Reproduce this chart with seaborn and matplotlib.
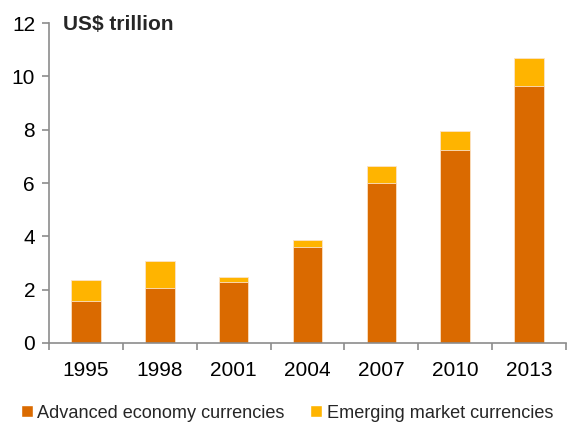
import matplotlib
matplotlib.use("Agg")
import matplotlib.pyplot as plt
import seaborn as sns
import pandas as pd
from matplotlib.patches import Patch

# ---- data (US$ trillion) ----
years = ["1995", "1998", "2001", "2004", "2007", "2010", "2013"]
advanced = [1.57, 2.06, 2.29, 3.60, 6.00, 7.24, 9.64]
emerging = [0.79, 1.01, 0.18, 0.26, 0.64, 0.71, 1.05]

ORANGE = "#DA6A00"
YELLOW = "#FFB400"

sns.set_theme(style="white")
plt.rcParams["font.family"] = ["Liberation Sans", "DejaVu Sans"]

df = pd.DataFrame({"year": years, "advanced": advanced, "emerging": emerging})
df["total"] = df["advanced"] + df["emerging"]

fig = plt.figure(figsize=(5.67, 4.23), dpi=100)
ax = fig.add_axes([49 / 567, 1 - 343 / 423, 517 / 567, 320 / 423])

sns.barplot(data=df, x="year", y="total", color=YELLOW, width=0.4,
            saturation=1, ax=ax, edgecolor="#fbe3c8", linewidth=0.6)
sns.barplot(data=df, x="year", y="advanced", color=ORANGE, width=0.4,
            saturation=1, ax=ax, edgecolor="#fbe3c8", linewidth=0.6)

ax.set_xlim(-0.5, len(years) - 0.5)
ax.set_ylim(0, 12)
ax.set_yticks(range(0, 13, 2))
ax.set_xlabel("")
ax.set_ylabel("")

for side in ["top", "right"]:
    ax.spines[side].set_visible(False)
for side in ["left", "bottom"]:
    ax.spines[side].set_color("#8c8c8c")
    ax.spines[side].set_linewidth(1.2)

# category-boundary ticks on x axis
ax.set_xticks([i - 0.5 for i in range(len(years) + 1)], minor=True)
ax.tick_params(axis="x", which="minor", direction="out", length=5,
               color="#8c8c8c", width=1.2, bottom=True)
ax.tick_params(axis="x", which="major", length=0, pad=13, labelsize=15,
               labelcolor="black")
ax.tick_params(axis="y", direction="out", length=5, color="#8c8c8c",
               width=1.2, left=True, labelsize=15, labelcolor="black", pad=5)

fig.text(63 / 567, 1 - 25 / 423, "US$ trillion", fontsize=15,
         fontweight="bold", va="center", ha="left")

handles = [Patch(facecolor=ORANGE, label="Advanced economy currencies"),
           Patch(facecolor=YELLOW, label="Emerging market currencies")]
fig.legend(handles=handles, loc="center left", bbox_to_anchor=(21 / 567, 1 - 413 / 423),
           ncol=2, frameon=False, fontsize=13.1, handlelength=0.65,
           handleheight=0.65, handletextpad=0.25, columnspacing=1.4,
           borderpad=0, borderaxespad=0)

fig.savefig("out.png", dpi=100)
